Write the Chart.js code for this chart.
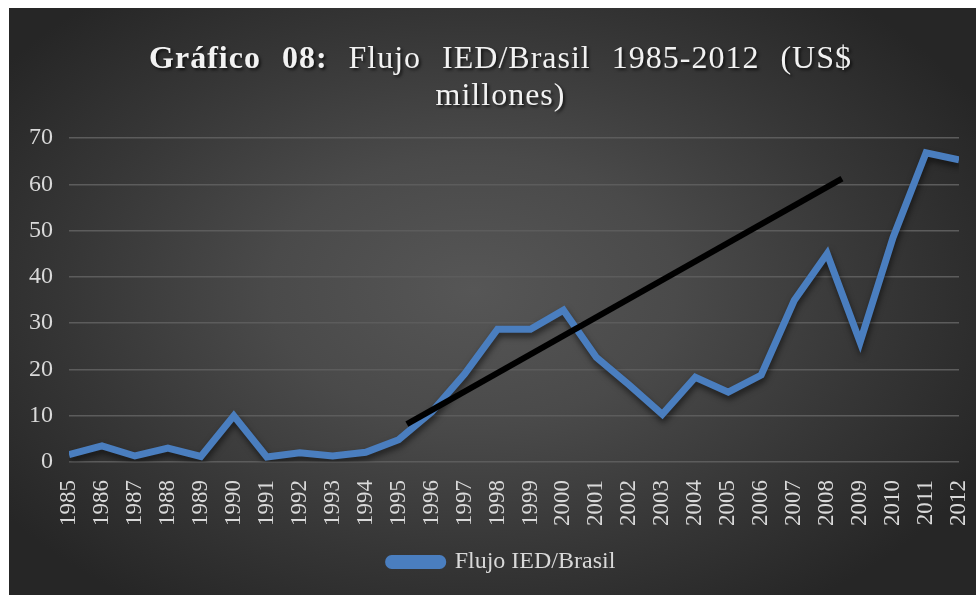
<!DOCTYPE html>
<html>
<head>
<meta charset="utf-8">
<script src="https://cdn.jsdelivr.net/npm/chart.js@4.4.1/dist/chart.umd.min.js"></script>
<style>
  html, body { margin: 0; padding: 0; background: #fff; }
  #marco {
    position: absolute; left: 9px; top: 8px; width: 967px; height: 587px;
    background: radial-gradient(ellipse 60% 65% at 48% 48%, #565656 0%, #4a4a4a 35%, #363636 70%, #262626 100%);
  }
  #titulo {
    position: absolute; left: 8px; top: 31px; width: 967px;
    text-align: center; color: #f2f2f2;
    font-family: "Liberation Serif", "Times New Roman", serif;
    font-size: 32px; line-height: 37px; letter-spacing: 1px; word-spacing: 12px;
    text-shadow: 2px 2px 3px rgba(0,0,0,0.65);
  }
  #grafico { position: absolute; left: 0; top: 0; }
</style>
</head>
<body>
<div id="marco">
  <canvas id="grafico" width="967" height="587"></canvas>
  <div id="titulo"><b>Gráfico 08:</b> Flujo IED/Brasil 1985-2012 (US$<br>millones)</div>
</div>
<script>
// datos
const anios = ['1985','1986','1987','1988','1989','1990','1991','1992','1993','1994',
               '1995','1996','1997','1998','1999','2000','2001','2002','2003','2004',
               '2005','2006','2007','2008','2009','2010','2011','2012'];
const flujoIED = [1.6, 3.5, 1.3, 3.0, 1.2, 10.0, 1.1, 2.0, 1.3, 2.1,
                  4.8, 10.8, 19.0, 28.7, 28.7, 32.8, 22.6, 16.6, 10.3, 18.3,
                  15.1, 18.8, 34.9, 45.0, 25.9, 48.5, 66.8, 65.3];
// linea de tendencia (inicio y fin)
const tendAnios = [1995.25, 2008.45];
const tendValores = [8.2, 61.2];
const ticksY = [0, 10, 20, 30, 40, 50, 60, 70];

const fuente = "'Liberation Serif', 'Times New Roman', serif";

// sombra bajo la serie azul
const sombra = {
  id: 'sombra',
  beforeDatasetDraw(chart, args) {
    const ctx = chart.ctx;
    ctx.save();
    if (args.index === 1) {
      ctx.shadowColor = 'rgba(0,0,0,0.55)';
      ctx.shadowBlur = 6;
      ctx.shadowOffsetX = 1;
      ctx.shadowOffsetY = 4;
    }
  },
  afterDatasetDraw(chart) {
    chart.ctx.restore();
  }
};

// mover la leyenda un poco a la derecha
const moverLeyenda = {
  id: 'moverLeyenda',
  afterLayout(chart) {
    if (chart.legend) {
      chart.legend.left += 16;
      chart.legend.right += 16;
    }
  }
};

const ctx = document.getElementById('grafico').getContext('2d');
new Chart(ctx, {
  type: 'line',
  data: {
    datasets: [{
      label: 'Tendencia',
      data: tendAnios.map((a, i) => ({ x: a, y: tendValores[i] })),
      borderColor: '#000000',
      backgroundColor: '#000000',
      borderWidth: 6,
      pointRadius: 0,
      order: 0
    }, {
      label: 'Flujo IED/Brasil',
      data: anios.map((a, i) => ({ x: +a, y: flujoIED[i] })),
      borderColor: '#4a7ebf',
      backgroundColor: '#4a7ebf',
      borderWidth: 7,
      pointRadius: 0,
      tension: 0,
      order: 1
    }]
  },
  options: {
    responsive: false,
    animation: false,
    layout: { padding: { top: 130, left: 4, right: 17, bottom: 11 } },
    plugins: {
      title: { display: false },
      tooltip: { enabled: false },
      legend: {
        position: 'bottom',
        labels: {
          filter: item => item.datasetIndex === 1,
          color: '#d9d9d9',
          font: { family: fuente, size: 24 },
          boxWidth: 54,
          boxHeight: 7,
          useBorderRadius: true,
          borderRadius: 3,
          padding: 14
        }
      }
    },
    scales: {
      x: {
        type: 'linear',
        min: 1985,
        max: 2012,
        grid: { display: false },
        border: { display: false },
        afterBuildTicks: axis => { axis.ticks = anios.map(a => ({ value: +a })); },
        afterFit: axis => { axis.paddingLeft = 0; axis.paddingRight = 0; },
        ticks: {
          autoSkip: false,
          minRotation: 90,
          maxRotation: 90,
          padding: 10,
          color: '#d9d9d9',
          font: { family: fuente, size: 23 },
          callback: v => String(v)
        }
      },
      y: {
        min: 0,
        max: 70,
        afterBuildTicks: axis => { axis.ticks = ticksY.map(v => ({ value: v })); },
        grid: { color: '#5c5c5c', lineWidth: 1.5, drawTicks: false },
        border: { display: false },
        ticks: {
          padding: 16,
          color: '#d9d9d9',
          font: { family: fuente, size: 24 }
        }
      }
    }
  },
  plugins: [sombra, moverLeyenda]
});
</script>
</body>
</html>
